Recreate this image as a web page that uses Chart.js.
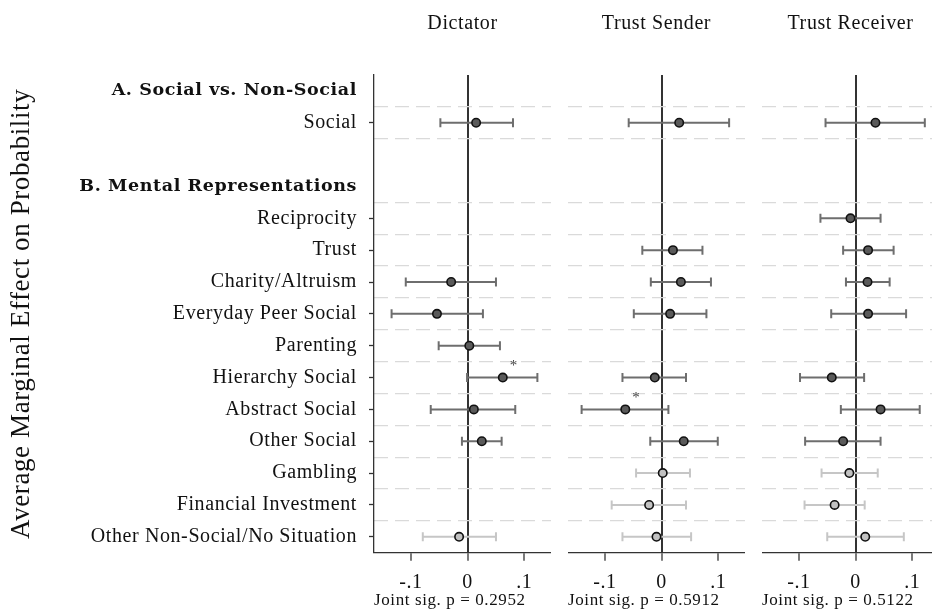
<!DOCTYPE html>
<html>
<head>
<meta charset="utf-8">
<script src="https://cdn.jsdelivr.net/npm/chart.js@4.4.1/dist/chart.umd.min.js"></script>
<style>
  html, body { margin: 0; padding: 0; background: #fff; overflow: hidden; }
  body { width: 932px; height: 615px; position: relative; }
  .panel { position: absolute; top: 0; height: 615px; }
</style>
</head>
<body>
<div class="panel" style="left:0;width:551px"><canvas id="dictatorCanvas"></canvas></div>
<div class="panel" style="left:568px;width:177px"><canvas id="senderCanvas"></canvas></div>
<div class="panel" style="left:762px;width:177px"><canvas id="receiverCanvas"></canvas></div>
<script>
const rows = [
  'A. Social vs. Non-Social', 'Social', '', 'B. Mental Representations',
  'Reciprocity', 'Trust', 'Charity/Altruism', 'Everyday Peer Social', 'Parenting',
  'Hierarchy Social', 'Abstract Social', 'Other Social', 'Gambling',
  'Financial Investment', 'Other Non-Social/No Situation'
]
const headerRows = [0, 3]
const nonSocialRows = [12, 13, 14]

const xTicks = [-0.1, 0, 0.1]
const xTickLabels = ['-.1', '0', '.1']

const panelTitles = ['Dictator', 'Trust Sender', 'Trust Receiver']
const jointP = ['0.2952', '0.5912', '0.5122']

// estimates and 95% CI per row (null = not in model)
const dictatorEst = [null, 0.015, null, null, null, null, -0.029, -0.054, 0.003, 0.062, 0.011, 0.025, null, null, -0.015]
const dictatorLo  = [null, -0.048, null, null, null, null, -0.109, -0.134, -0.051, -0.001, -0.065, -0.010, null, null, -0.079]
const dictatorHi  = [null, 0.080, null, null, null, null, 0.050, 0.027, 0.057, 0.123, 0.084, 0.060, null, null, 0.050]
const dictatorStars = [9]

const senderEst = [null, 0.031, null, null, null, 0.020, 0.034, 0.015, null, -0.012, -0.064, 0.039, 0.002, -0.022, -0.009]
const senderLo  = [null, -0.058, null, null, null, -0.034, -0.019, -0.049, null, -0.069, -0.141, -0.020, -0.045, -0.088, -0.069]
const senderHi  = [null, 0.119, null, null, null, 0.072, 0.087, 0.079, null, 0.043, 0.012, 0.099, 0.050, 0.043, 0.052]
const senderStars = [10]

const receiverEst = [null, 0.035, null, null, -0.009, 0.022, 0.021, 0.022, null, -0.042, 0.044, -0.022, -0.011, -0.037, 0.017]
const receiverLo  = [null, -0.053, null, null, -0.062, -0.022, -0.017, -0.043, null, -0.098, -0.026, -0.089, -0.060, -0.090, -0.050]
const receiverHi  = [null, 0.122, null, null, 0.044, 0.067, 0.060, 0.089, null, 0.015, 0.113, 0.044, 0.039, 0.016, 0.085]
const receiverStars = []

const serif = '"Liberation Serif", "Times New Roman", serif'
const boldSerif = '"DejaVu Serif", "Liberation Serif", serif'
Chart.defaults.font.family = serif
Chart.defaults.color = '#111'

const darkBar = '#6e6e6e'
const lightBar = '#c6c6c6'
const darkDot = '#5a5a5a'
const lightDot = '#c2c2c2'

// dashed separators between rows (none between the blank row and section B)
const gridLines = rows.map((r, i) => i + 0.5).filter(v => v < rows.length - 1 && v !== 2.5)

// a bit of tracking so the serif text is closer to the LaTeX look
const spacingPlugin = {
  id: 'spacing',
  beforeDraw(chart) { chart.ctx.letterSpacing = '0.6px' }
}

// significance stars drawn next to the marker
const starPlugin = {
  id: 'stars',
  afterDatasetsDraw(chart, args, opts) {
    const ctx = chart.ctx
    const x = chart.scales.x
    const y = chart.scales.y
    ctx.save()
    ctx.font = '15px ' + serif
    ctx.fillStyle = '#444'
    ctx.textAlign = 'center'
    ctx.textBaseline = 'middle'
    opts.rows.forEach(i => {
      ctx.fillText('*', x.getPixelForValue(opts.est[i]) + 11, y.getPixelForValue(i) - 11)
    })
    ctx.restore()
  }
}

function makePanel(canvasId, title, pValue, est, lo, hi, stars, withLabels) {
  const datasets = []
  const points = []
  const fills = []
  rows.forEach((r, i) => {
    if (est[i] === null) return
    const light = nonSocialRows.includes(i)
    const c = light ? lightBar : darkBar
    datasets.push({
      data: [{x: lo[i], y: i}, {x: hi[i], y: i}],
      showLine: true,
      borderColor: c,
      borderWidth: 2,
      pointStyle: 'line',
      rotation: 90,
      pointRadius: 4.5,
      pointBorderColor: c,
      pointBorderWidth: 2,
      order: 1
    })
    points.push({x: est[i], y: i})
    fills.push(light ? lightDot : darkDot)
  })
  datasets.push({
    data: points,
    backgroundColor: fills,
    borderColor: '#111',
    borderWidth: 1.6,
    pointRadius: 4.2,
    order: 0
  })

  return new Chart(document.getElementById(canvasId), {
    type: 'scatter',
    data: { datasets: datasets },
    plugins: [spacingPlugin, starPlugin],
    options: {
      responsive: true,
      maintainAspectRatio: false,
      animation: false,
      events: [],
      layout: { padding: 0, autoPadding: false },
      plugins: {
        legend: { display: false },
        tooltip: { enabled: false },
        title: {
          display: true,
          text: title,
          fullSize: false,
          color: '#111',
          font: { family: serif, size: 20, weight: 'normal' },
          padding: { top: 12, bottom: 39 }
        },
        stars: { rows: stars, est: est }
      },
      scales: {
        x: {
          type: 'linear',
          min: -0.165,
          max: 0.147,
          afterBuildTicks: s => { s.ticks = xTicks.map(v => ({value: v})) },
          afterFit: s => { s.height = 62.3 },
          ticks: {
            callback: (v, i) => xTickLabels[i],
            color: '#111',
            font: { family: serif, size: 20 },
            padding: 10,
            maxRotation: 0
          },
          grid: {
            color: ctx => (ctx.tick && ctx.tick.value === 0) ? '#333' : 'rgba(0,0,0,0)',
            lineWidth: 2,
            tickColor: '#333',
            tickLength: 8,
            tickWidth: 1.3
          },
          border: { color: '#333', width: 1.3 },
          title: {
            display: true,
            align: 'start',
            text: 'Joint sig. p = ' + pValue,
            color: '#111',
            font: { family: serif, size: 17 },
            padding: { top: 0, bottom: 4 }
          }
        },
        y: {
          type: 'linear',
          reverse: true,
          min: -0.5,
          max: 14.5,
          weight: 1,
          display: withLabels,
          afterBuildTicks: s => { s.ticks = rows.map((r, i) => ({value: i})) },
          afterFit: s => { s.width = withLabels ? 374 : 0 },
          ticks: {
            autoSkip: false,
            padding: 12,
            color: '#111',
            callback: v => rows[v],
            font: ctx => headerRows.includes(ctx.index)
              ? { family: boldSerif, size: 17.5, weight: 'bold' }
              : { family: serif, size: 20, weight: 'normal' }
          },
          grid: {
            drawOnChartArea: false,
            tickLength: 5,
            tickWidth: 1.3,
            tickColor: ctx => (rows[ctx.index] && !headerRows.includes(ctx.index)) ? '#333' : 'rgba(0,0,0,0)'
          },
          border: { color: '#333', width: 1.3 },
          title: {
            display: true,
            text: 'Average Marginal Effect on Probability',
            color: '#111',
            font: { family: serif, size: 27 },
            padding: { top: 6, bottom: 0 }
          }
        },
        yg: {
          type: 'linear',
          reverse: true,
          min: -0.5,
          max: 14.5,
          position: 'left',
          weight: 0,
          afterBuildTicks: s => { s.ticks = gridLines.map(v => ({value: v})) },
          afterFit: s => { s.width = 0 },
          ticks: { display: false },
          grid: { color: '#dadada', lineWidth: 1.3, drawTicks: false },
          border: { display: false, dash: [14, 7] }
        }
      }
    }
  })
}

makePanel('dictatorCanvas', panelTitles[0], jointP[0], dictatorEst, dictatorLo, dictatorHi, dictatorStars, true)
makePanel('senderCanvas', panelTitles[1], jointP[1], senderEst, senderLo, senderHi, senderStars, false)
makePanel('receiverCanvas', panelTitles[2], jointP[2], receiverEst, receiverLo, receiverHi, receiverStars, false)
</script>
</body>
</html>
